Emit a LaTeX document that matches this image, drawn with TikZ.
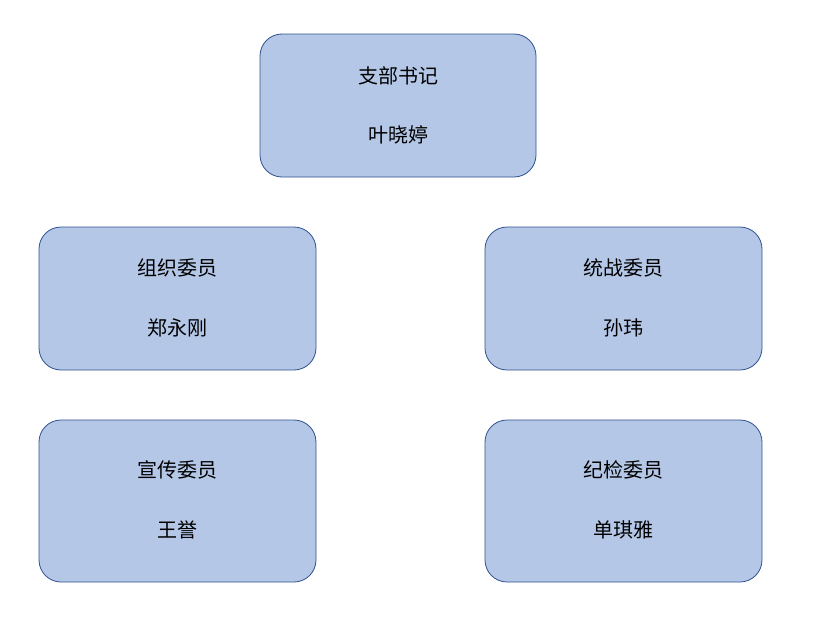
\documentclass[tikz,border=0pt]{standalone}
\usepackage{fontspec}
\newfontfamily\cjk{Noto Sans CJK SC}
\definecolor{boxfill}{HTML}{B4C7E7}
\definecolor{boxline}{HTML}{2F528F}
\begin{document}
\begin{tikzpicture}[x=1pt,y=-1pt,
  box/.style={draw=boxline,fill=boxfill,rounded corners=22pt,line width=0.8pt},
  lbl/.style={font=\cjk\fontsize{20}{24}\selectfont,text=black,inner sep=0pt}]
\useasboundingbox (0,0) rectangle (817,621);
\draw[box] (260,34) rectangle (536,177);
\draw[box] (39,227) rectangle (316,370);
\draw[box] (485,227) rectangle (762,370);
\draw[box] (39,420) rectangle (316,582);
\draw[box] (485,420) rectangle (762,582);
\node[lbl] (t1) at (398,76) {支部书记};
\node[lbl] (t2) at (398,135) {叶晓婷};
\node[lbl] (a1) at (177,268) {组织委员};
\node[lbl] (a2) at (177,328) {郑永刚};
\node[lbl] (b1) at (623,268) {统战委员};
\node[lbl] (b2) at (623,328) {孙玮};
\node[lbl] (c1) at (177,470) {宣传委员};
\node[lbl] (c2) at (177,530) {王誉};
\node[lbl] (d1) at (623,470) {纪检委员};
\node[lbl] (d2) at (623,530) {单琪雅};
\end{tikzpicture}
\end{document}
